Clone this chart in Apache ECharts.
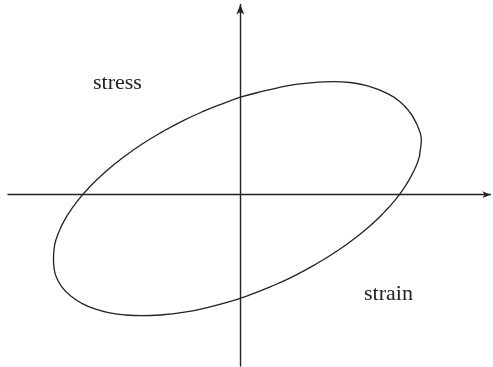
<!DOCTYPE html>
<html>
<head>
<meta charset="utf-8">
<title>stress–strain loop</title>
<script src="https://cdn.jsdelivr.net/npm/echarts@6/dist/echarts.min.js"></script>
<style>
  html, body { margin: 0; padding: 0; background: #fff; }
  #chart { width: 493px; height: 367px; }
</style>
</head>
<body>
<div id="chart"></div>
<script>
// Hysteresis loop, traced clockwise from where it meets the stress axis at the top.
// Both quantities are in the same arbitrary units, origin at the axis crossing.
var strain = [
  0, 17.5, 37.5, 57.5, 77.5, 93, 109.7, 129.7, 146.7, 159.7, 169.7, 175.5, 179.3, 180.6, 181,
  180.8, 179.8, 178.8, 175.5, 171, 163.2, 153.5, 143.5, 133.5, 117.5, 97.5, 75.5, 52.5, 30.5, 9.5,
  -12.5, -34.5, -57.5, -80.5, -98, -114.5, -130.5, -145.5, -158.5, -169.5, -178.5, -184,
  -186.2, -186.8, -186.2, -184.5, -179.5, -172.5, -162.5, -150.5, -134.5, -117.5, -98.5, -78.5,
  -57.5, -36.5, -15.5, 0
];
var stress = [
  97.5, 102.2, 106.9, 110.5, 112.5, 113, 112.2, 108, 101.4, 93, 82.2, 72.5, 63.5, 59, 54.7,
  50.3, 43.5, 37, 28, 18.8, 5.9, -6.9, -17.9, -27.7, -41.2, -55.8, -69.5, -81.9, -91.9, -100.2,
  -107.5, -113.2, -117.7, -120.3, -121, -120.3, -118.1, -114.2, -108.7, -101.4, -92.1, -82.3,
  -74, -64.3, -54.5, -45.6, -32.7, -20, -5.9, 7.9, 23.2, 37, 50.4, 62.6,
  73.9, 83.5, 91.8, 97.5
];

// Axis titles
var axisTitles = ['stress', 'strain'];

var loop = strain.map(function (s, i) { return [s, stress[i]]; });

var ink = '#222';
var titleFont = '22px "Liberation Serif", "Times New Roman", serif';
var chart = echarts.init(document.getElementById('chart'), null, { renderer: 'canvas' });

chart.setOption({
  animation: false,
  backgroundColor: '#fff',
  grid: { left: 8, right: 2.5, top: 4.5, bottom: 1, containLabel: false },
  xAxis: {
    type: 'value',
    min: -232.3,
    max: 250.2,
    axisLine: {
      onZero: true,
      lineStyle: { color: ink, width: 1.4 },
      symbol: ['none', 'arrow'],
      symbolSize: [5, 8]
    },
    axisTick: { show: false },
    axisLabel: { show: false },
    splitLine: { show: false }
  },
  yAxis: {
    type: 'value',
    min: -171.3,
    max: 190.2,
    axisLine: {
      onZero: true,
      lineStyle: { color: ink, width: 1.4 },
      symbol: ['none', 'arrow'],
      symbolSize: [6, 10]
    },
    axisTick: { show: false },
    axisLabel: { show: false },
    splitLine: { show: false }
  },
  series: [{
    type: 'line',
    data: loop,
    smooth: 0.5,
    showSymbol: false,
    lineStyle: { color: ink, width: 1.3 },
    silent: true
  }],
  graphic: [
    {
      type: 'text', x: 93, y: 83.3,
      style: { text: axisTitles[0], font: titleFont, fill: ink, textVerticalAlign: 'middle' }
    },
    {
      type: 'text', x: 364, y: 294.3,
      style: { text: axisTitles[1], font: titleFont, fill: ink, textVerticalAlign: 'middle' }
    }
  ]
});
</script>
</body>
</html>
